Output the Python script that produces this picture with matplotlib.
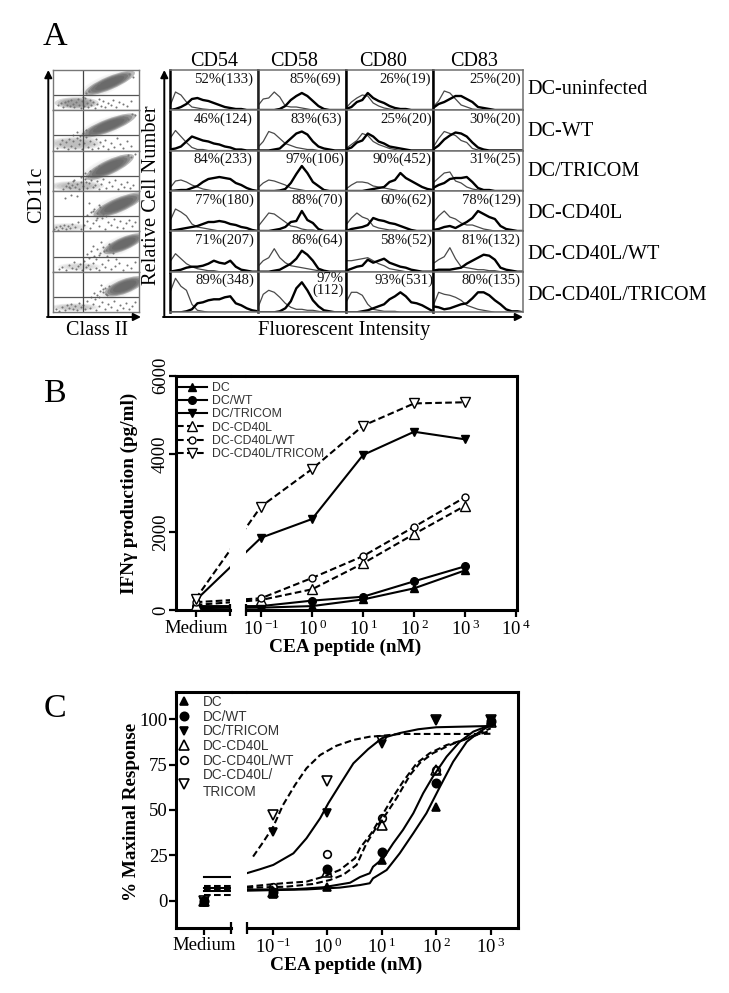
import matplotlib
matplotlib.use('Agg')
import matplotlib.pyplot as plt
import numpy as np
from matplotlib.lines import Line2D
from matplotlib.patches import Ellipse, FancyArrowPatch
from matplotlib.ticker import NullFormatter

plt.rcParams['font.family'] = ['Liberation Serif', 'DejaVu Serif']
plt.rcParams['mathtext.fontset'] = 'custom'
plt.rcParams['mathtext.rm'] = 'Liberation Serif'
plt.rcParams['mathtext.default'] = 'regular'

W, H = 729, 993

# ---------------- Panel A data ----------------
MARKERS_A = ['CD54', 'CD58', 'CD80', 'CD83']
GROUPS_A = ['DC-uninfected', 'DC-WT', 'DC/TRICOM', 'DC-CD40L', 'DC-CD40L/WT', 'DC-CD40L/TRICOM']
PCT_LABELS = [
    ['52%(133)', '85%(69)', '26%(19)', '25%(20)'],
    ['46%(124)', '83%(63)', '25%(20)', '30%(20)'],
    ['84%(233)', '97%(106)', '90%(452)', '31%(25)'],
    ['77%(180)', '88%(70)', '60%(62)', '78%(129)'],
    ['71%(207)', '86%(64)', '58%(52)', '81%(132)'],
    ['89%(348)', '97%\n(112)', '93%(531)', '80%(135)'],
]
# histogram heights at 17 evenly spaced intensity channels, [row][col]
HIST_THIN = [
    [[4,18,15,8,3,2,1,.5,0,0,0,0,0,0,0,0,0],
     [4,11,12,18,13,4,3,3,2,1,0,0,0,0,0,0,0],
     [2,8,12,15,14,7,4,2,1,0,0,0,0,0,0,0,0],
     [3,9,19,17,11,5,3,1,.5,0,0,0,0,0,0,0,0]],
    [[12,20,14,8,3,1,1,0,0,0,0,0,0,0,0,0,0],
     [3,9,19,17,12,7,5,3,2,1,1,0,0,0,0,0,0],
     [2,6,10,17,15,9,6,4,2,1,0,0,0,0,0,0,0],
     [3,12,19,17,15,10,8,2,.5,0,0,0,0,0,0,0,0]],
    [[3,10,11,9,6,4,2,1,0,0,0,0,0,0,0,0,0],
     [3,8,11,10,8,6,3,2,1,0,0,0,0,0,0,0,0],
     [2,6,9,9,8,5,4,3,2,1,0,0,0,0,0,0,0],
     [8,13,18,19,10,8,4,2,1,0,0,0,0,0,0,0,0]],
    [[10,22,19,15,7,4,3,2,1,0,0,0,0,0,0,0,0],
     [4,11,18,17,13,9,5,4,2,1,1,0,0,0,0,0,0],
     [6,13,18,14,12,5,3,2,1,1,0,0,0,0,0,0,0],
     [8,15,20,14,12,8,6,6,4,2,1,0,0,0,0,0,0]],
    [[10,18,13,8,5,3,2,1,1,0,0,0,0,0,0,0,0],
     [5,11,14,23,14,9,6,5,4,3,2,1,0,0,0,0,0],
     [11,11,12,13,14,11,8,6,3,2,1,0,0,0,0,0,0],
     [8,12,15,24,13,5,4,3,2,2,1,1,0,0,0,0,0]],
    [[20,34,26,22,8,2,1,0,0,0,0,0,0,0,0,0,0],
     [4,18,22,20,15,9,5,3,3,2,2,1,0,0,0,0,0],
     [10,20,20,17,8,3,2,1,1,1,0,0,0,0,0,0,0],
     [6,20,18,17,15,12,7,5,3,2,1,0,0,0,0,0,0]],
]
HIST_THICK = [
    [[0,1,3,6,11,12,10,9,7,5,3,2,1,1,0,0,0],
     [0,0,0,0,1,4,10,14,17,14,9,4,1,0,0,0,0],
     [1,3,8,10,17,12,9,7,4,2,1,1,0,0,0,0,0],
     [2,6,8,11,14,14,11,8,3,2,1,0,0,0,0,0,0]],
    [[1,2,4,9,14,12,10,9,7,6,4,3,1,1,0,0,0],
     [0,0,0,1,2,7,12,17,19,16,9,4,2,1,0,0,0],
     [1,3,8,10,17,14,9,7,4,3,2,1,0,0,0,0,0],
     [1,5,11,15,18,17,14,8,3,1,0,0,0,0,0,0,0]],
    [[0,.5,1,1,3,5,9,12,13,14,13,12,8,6,3,1,0],
     [0,0,0,0,.5,2,8,17,25,18,9,5,1,0,0,0,0],
     [0,0,0,0,1,2,3,4,9,11,18,13,10,7,4,2,1],
     [3,6,8,12,13,13,14,9,3,1,1,0,0,0,0,0,0]],
    [[0,1,2,3,4,5,7,9,9,10,9,7,6,4,3,1,0],
     [0,0,0,1,2,4,9,10,20,11,8,2,0,0,0,0,0],
     [0,2,3,4,6,13,11,10,8,7,5,3,1,0,0,0,0],
     [1,2,4,5,3,6,9,13,20,17,14,12,5,2,1,0,0]],
    [[0,1,2,4,5,5,6,8,11,9,8,11,5,2,1,0,0],
     [0,0,0,1,2,5,8,13,21,17,11,3,1,0,0,0,0],
     [1,3,5,6,12,9,11,13,9,7,5,4,2,1,0,0,0],
     [1,2,2,2,3,4,8,11,14,17,16,12,4,2,1,0,0]],
    [[0,0,0,1,3,9,10,12,13,13,15,16,9,7,4,2,1],
     [0,0,0,0,1,4,11,24,30,22,12,6,2,1,0,0,0],
     [0,0,0,1,2,4,6,8,13,16,20,16,10,9,7,4,1],
     [6,5,3,4,6,8,9,14,20,20,17,12,8,3,1,1,0]],
]
# flow-cytometry dense populations: centre x, centre y, length, thickness, angle
CORE = [(57,27,42,10,23),(56,25,45,10,21),(57,24,41,11,25),(66,26,42,11,23),(71,28,34,10,23),(72,26,33,11,21)]
LOWER = [(24,7,34,9,.8),(22,7,42,10,.45),(24,5,42,8,.45),(14,4,34,6,.25),(27,5,34,6,.25),(22,5,38,6,.35)]
# individually read events outside the dense populations
DOTS_X = [
 [5,8,10,12,14,15,17,18,20,21,23,25,26,28,29,31,32,34,35,37,38,40,42,44,46,48,50,52,55,58,60,63,66,70,74,78,30,33,36,39,42,46,72,76,80],
 [4,7,9,11,13,15,16,18,20,22,24,26,27,29,31,33,35,37,39,41,43,45,47,50,52,55,58,61,64,67,70,74,78,20,24,27,30,33,36,38,42,70,75,79,82],
 [10,13,15,17,19,20,22,24,26,28,30,32,34,36,38,40,42,44,46,48,50,53,56,59,62,65,68,71,74,77,80,28,32,35,37,40,43,46,70,75,78,82,16,21,33],
 [1,3,5,7,9,11,13,15,17,19,22,25,28,31,34,37,40,43,46,49,52,55,58,61,64,67,70,73,76,79,82,12,18,24,34,38,41,44,47,50,53,46,44,40,36],
 [6,9,13,16,19,21,23,25,27,29,31,33,35,37,40,43,46,49,52,55,58,62,66,70,74,78,82,34,38,41,44,47,50,53,56,36,40,43,46,48,51,54,57,60,63],
 [3,6,9,12,14,16,18,20,22,24,26,28,30,32,34,37,40,43,46,49,52,55,58,61,64,67,70,73,76,79,82,38,41,44,47,50,53,56,42,46,50,54,58,48,52],
]
DOTS_Y = [
 [5,7,3,8,5,9,4,10,6,3,8,11,5,2,9,4,12,7,3,10,5,8,2,6,11,4,9,3,7,5,10,3,8,6,4,9,13,17,19,21,24,27,35,36,33],
 [3,6,10,4,8,2,11,5,9,3,12,6,10,2,7,13,4,9,2,6,11,3,8,5,10,2,7,4,12,6,3,9,5,15,18,14,17,20,16,19,23,33,31,36,35],
 [2,5,8,3,6,10,4,7,2,9,5,12,3,8,11,4,6,10,2,7,12,3,9,5,11,2,7,4,9,3,6,14,18,15,20,17,22,25,33,36,34,37,4,11,9],
 [2,4,1,5,3,6,2,5,3,7,4,9,2,6,10,3,8,11,5,13,2,9,6,12,4,10,3,8,11,5,9,33,36,35,16,19,22,18,24,17,15,26,13,20,28],
 [3,5,2,7,4,10,3,6,8,2,11,5,7,3,9,4,2,8,5,12,3,6,9,2,7,4,10,18,21,16,23,19,25,22,28,14,26,13,17,30,21,16,26,19,13],
 [3,1,5,2,7,4,8,3,6,2,9,5,7,3,11,4,8,2,6,10,3,8,5,11,2,7,4,9,3,6,10,15,19,17,21,23,18,26,13,15,20,17,22,27,24],
]

# ---------------- Panel B data ----------------
SERIES = ['DC', 'DC/WT', 'DC/TRICOM', 'DC-CD40L', 'DC-CD40L/WT', 'DC-CD40L/TRICOM']
CONC_B = [0.1, 1, 10, 100, 1000]
TICK_LABELS_B = [r'$10^{\,{-}1}$', r'$10^{\,0}$', r'$10^{\,1}$', r'$10^{\,2}$', r'$10^{\,3}$', r'$10^{\,4}$']
B_MEDIUM = [50, 100, 250, 130, 200, 290]
B_VALUES = [
    [60, 100, 270, 555, 1015],
    [100, 240, 340, 735, 1120],
    [1850, 2330, 3970, 4565, 4370],
    [256, 530, 1195, 1945, 2670],
    [300, 820, 1380, 2130, 2890],
    [2650, 3610, 4720, 5290, 5320],
]

# ---------------- Panel C data ----------------
CONC_C = [0.1, 1, 10, 100, 1000]
TICK_LABELS_C = [r'$10^{\,{-}1}$', r'$10^{\,0}$', r'$10^{\,1}$', r'$10^{\,2}$', r'$10^{\,3}$']
C_LEGEND = ['DC', 'DC/WT', 'DC/TRICOM', 'DC-CD40L', 'DC-CD40L/WT', 'DC-CD40L/\nTRICOM']
C_MEDIUM = [-0.5, 0, -0.5, 0, 0, 0]
C_VALUES = [
    [3.7, 7.7, 22.4, 51.5, 99.6],
    [5, 17.5, 27, 64.7, 99],
    [38, 48.2, 86.4, 99.6, 99.6],
    [5, 15.6, 41.7, 72, 98.7],
    [7.4, 25.7, 45.8, 72, 98.7],
    [47.2, 66, 88.2, 99.6, 99.6],
]
C_MEDIUM_LEVEL = [5.5, 6.8, 13.2, 6.5, 8.3, 3.1]
# fitted curves: log10(concentration), % response
FIT_LOG = [
    [-1.48,-.38,.23,.6,.78,.84,1.09,1.33,1.58,1.82,2.07,2.31,2.56,2.8,3],
    [-1.48,-.6,-.07,.42,.6,.78,.84,1.03,1.21,1.39,1.58,1.76,1.94,2.19,2.43,2.68,3],
    [-1.48,-1.235,-.99,-.62,-.38,-.13,.02,.23,.48,.75,1,1.33,1.67,2,2.43,3],
    [-1.48,-.75,-.26,.05,.29,.54,.72,.91,1.09,1.27,1.52,1.7,1.94,2.25,2.5,2.74,3],
    [-1.48,-.81,-.38,-.07,.23,.51,.6,.81,1.03,1.21,1.39,1.64,1.88,2.19,2.5,2.74,3],
    [-1.36,-1.17,-.99,-.81,-.59,-.38,-.13,.17,.48,.78,.97,1.33,1.82,2.68,3],
]
FIT_PCT = [
    [5.5,6.2,7.2,8.6,9.6,12.3,16.9,26.1,37.2,48.2,62.9,76.6,87.6,93.2,96.9],
    [6.1,6.3,7.4,9.9,13,15.1,18.7,23.4,31.6,39,48.2,59.2,68.4,79.4,87.6,93.2,96.9],
    [15.1,17.3,19.7,26.1,34.4,45.4,53.7,63.8,75.7,83.5,89.5,92.4,94.5,95.6,95.9,96.3],
    [7.1,7.7,9.2,11.4,14.2,19.7,31.6,40.8,48.2,56.4,69.3,75.9,81.3,85.8,88.6,91.9,95],
    [7.7,9.6,10.5,13.2,16.9,23.4,28.9,37.2,48.2,57.3,65.6,75.7,81.3,85.8,88.6,91.3,93.7],
    [24.3,32.5,40.8,52.8,63.8,73,80.3,85.4,88.6,90.4,90.8,91.9,91.9,91.9,92],
]

# ---------------- Styles ----------------
fig = plt.figure(figsize=(W / 100, H / 100), dpi=100, facecolor='white')
def axpx(l, t, r, b, **kw):
    return fig.add_axes([l / W, 1 - b / H, (r - l) / W, (b - t) / H], **kw)
def txt(x, y, s, **kw):
    return fig.text(x / W, 1 - y / H, s, **kw)
def arrow(x0, y0, x1, y1):
    fig.add_artist(FancyArrowPatch((x0 / W, 1 - y0 / H), (x1 / W, 1 - y1 / H), transform=fig.transFigure,
                                   arrowstyle='-|>', mutation_scale=11, lw=1.4, color='black',
                                   shrinkA=0, shrinkB=0))
def fline(x0, y0, x1, y1, lw):
    fig.add_artist(Line2D([x0 / W, x1 / W], [1 - y0 / H, 1 - y1 / H], transform=fig.transFigure,
                          color='black', lw=lw, solid_capstyle='butt'))
def soft(ax, x, y, w, h, ang, color, alpha):
    # stacked translucent ellipses give a cloud with a soft edge
    for k in (1.3, 1.12, 0.95, 0.75):
        ax.add_patch(Ellipse((x, y), w * k, h * k, angle=ang, color=color, alpha=alpha, lw=0))

MK = ['^', 'o', 'v', '^', 'o', 'v']
FILLED = [True, True, True, False, False, False]
LS = ['-', '-', '-', '--', '--', '--']
DASH = (0, (3.2, 1.6))

# ---------------- Panel A ----------------
txt(43, 45, 'A', fontsize=24.5, va='baseline')
ROW_EDGES = [70, 110, 150.5, 191, 231, 271.7, 312.3]
SC_L, SC_R = 52.7, 139
for i in range(6):
    ax = axpx(SC_L, ROW_EDGES[i], SC_R, ROW_EDGES[i + 1])
    ax.set_xlim(0, 86.3); ax.set_ylim(0, ROW_EDGES[i + 1] - ROW_EDGES[i])
    cx, cy, ln, th, ang = CORE[i]
    soft(ax, cx - 5, cy - 2, ln, th * 1.35, ang, '#8c8c8c', 0.07)
    lx, ly, lw_, lh, la = LOWER[i]
    soft(ax, lx, ly, lw_, lh, 0, '#707070', la * 0.3)
    soft(ax, cx, cy, ln, th, ang, '#5c5c5c', 0.42)
    ax.scatter(DOTS_X[i], DOTS_Y[i], s=2.2, color='#777777', lw=0)
    ax.axhline(15, color='#555555', lw=0.9)
    ax.axvline(30.7, color='#444444', lw=0.9)
    ax.set_xticks([]); ax.set_yticks([])
    for s in ax.spines.values():
        s.set_color('#777777'); s.set_linewidth(1.0)
arrow(48.3, 317, 48.3, 70)
arrow(47, 317, 141, 317)
txt(97, 330.5, 'Class II', fontsize=14.5, ha='center', va='center')
txt(37, 195, 'CD11c', fontsize=14.5, rotation=90, ha='center', va='center')

COL_EDGES = [170, 257.7, 346, 433, 523]
TEXT_RIGHT = [
    [252.7, 341, 431, 520.7], [252.7, 342, 431.7, 520.7], [252.7, 344.3, 431.7, 520.7],
    [254.3, 343.3, 431.7, 520.7], [254.3, 343.3, 432.3, 520.7], [254.3, 343.3, 433.3, 520.7],
]
for r in range(6):
    for c in range(4):
        ax = axpx(COL_EDGES[c], ROW_EDGES[r], COL_EDGES[c + 1], ROW_EDGES[r + 1])
        ax.set_xlim(0, 16); ax.set_ylim(0, ROW_EDGES[r + 1] - ROW_EDGES[r])
        ch = np.arange(17)
        ax.plot(ch, HIST_THIN[r][c], color='#4a4a4a', lw=0.9, solid_joinstyle='round')
        ax.plot(ch, HIST_THICK[r][c], color='black', lw=1.7, solid_joinstyle='round')
        ax.set_xticks([]); ax.set_yticks([])
        for s in ax.spines.values():
            s.set_color('#6f6f6f'); s.set_linewidth(1.1)
        ax.spines['left'].set_color('black' if c != 1 else '#222222')
        ax.spines['left'].set_linewidth(1.8)
        label = PCT_LABELS[r][c]
        if '\n' in label:
            txt(TEXT_RIGHT[r][c], ROW_EDGES[r] + 13, label, fontsize=10.6, ha='right', va='center', linespacing=0.85, color='#111111')
        else:
            txt(TEXT_RIGHT[r][c], ROW_EDGES[r] + 9, label, fontsize=10.6, ha='right', va='center', color='#111111')
for x, m in zip([214, 294, 383, 474], MARKERS_A):
    txt(x, 61, m, fontsize=14.5, ha='center', va='center')
for y, g in zip([89, 131, 172, 213.5, 254.5, 295.5], GROUPS_A):
    txt(527.7, y, g, fontsize=14.6, ha='left', va='center')
arrow(164.3, 317, 164.3, 70)
arrow(163, 317, 523, 317)
txt(151, 195, 'Relative Cell Number', fontsize=14.8, rotation=90, ha='center', va='center')
txt(344, 330.5, 'Fluorescent Intensity', fontsize=14.8, ha='center', va='center')

# ---------------- Broken axes helper ----------------
def broken(l, gap0, gap1, r, t, b, xlim_l, xlim_r, ylim, med_pos):
    a0 = axpx(l, t, gap0, b); a1 = axpx(gap1, t, r, b)
    for a, lim in ((a0, xlim_l), (a1, xlim_r)):
        a.set_xscale('log'); a.set_xlim(10 ** lim[0], 10 ** lim[1]); a.set_ylim(*ylim)
        a.patch.set_alpha(0)
        for s in a.spines.values():
            s.set_linewidth(2.2)
        a.tick_params(which='major', width=1.6, length=5, pad=2, labelsize=13.5)
        a.tick_params(which='minor', width=1.6, length=9, direction='inout')
        a.xaxis.set_minor_formatter(NullFormatter())
    a0.spines['right'].set_visible(False)
    a1.spines['left'].set_visible(False)
    a1.yaxis.set_visible(False)
    a0.set_xticks([10 ** med_pos]); a0.set_xticklabels(['Medium'])
    a0.set_xticks([10 ** xlim_l[1]], minor=True)
    fline(gap0, t, gap1, t, 2.2)
    return a0, a1

# ---------------- Panel B ----------------
txt(44, 402, 'B', fontsize=24.5, va='baseline')
MED_B = 10 ** -2.28
a0, a1 = broken(176, 230, 245.7, 516.7, 375.7, 610, (-2.667, -1.608), (-1.3, 4.01), (0, 6000), -2.28)
handles = []
for i, name in enumerate(SERIES):
    xs = [MED_B] + CONC_B
    ys = [B_MEDIUM[i]] + B_VALUES[i]
    for a in (a0, a1):
        ln, = a.plot(xs, ys, color='black', lw=1.5, ls=DASH if LS[i] == '--' else '-', marker=MK[i],
                     ms=5.5 if FILLED[i] else (5 if MK[i] == 'o' else 6.5),
                     mfc='black' if FILLED[i] else 'white', mec='black', mew=1.0,
                     zorder=3 + i * 0.1, label=name)
    handles.append(ln)
a1.set_xticks([0.1, 1, 10, 100, 1000, 10000]); a1.set_xticklabels(TICK_LABELS_B)
a1.set_xticks([10 ** -1.3], minor=True)
a0.set_yticks([0, 2000, 4000, 6000])
a0.set_yticklabels(['0', '2000', '4000', '6000'], rotation=90, va='center')
a0.tick_params(axis='y', pad=0)
fig.legend(handles=handles, loc='upper left', bbox_to_anchor=(177 / W, 1 - 382 / H), frameon=False,
           borderaxespad=0, borderpad=0, labelspacing=0.1, handlelength=2.45, numpoints=1,
           handletextpad=0.38, prop={'family': 'Liberation Sans', 'size': 8.9}, labelcolor='#333333')
txt(129, 493, 'IFNγ production (pg/ml)', fontsize=13.8, fontweight='bold', rotation=90, ha='center', va='center')
txt(345, 647, 'CEA peptide (nM)', fontsize=13.9, fontweight='bold', ha='center', va='center')

# ---------------- Panel C ----------------
txt(44, 717, 'C', fontsize=24.5, va='baseline')
MED_C = 10 ** -2.26
yl = (-14.9, 115.2)
c0, c1 = broken(176, 230.7, 246.7, 518, 691.7, 927.7, (-2.774, -1.77), (-1.477, 3.5), yl, -2.26)
hs = []
for i, name in enumerate(C_LEGEND):
    style = dict(color='black', lw=1.5, ls=DASH if LS[i] == '--' else '-', zorder=2)
    mk = dict(ls='none', marker=MK[i], ms=6 if FILLED[i] else (5.5 if MK[i] == 'o' else 7),
              mfc='black' if FILLED[i] else 'none', mec='black', mew=1.2, zorder=4)
    c1.plot(10.0 ** np.array(FIT_LOG[i]), FIT_PCT[i], **style)
    c0.plot([MED_C, 10 ** -1.6], [C_MEDIUM_LEVEL[i]] * 2, **style)
    c0.plot([MED_C], [C_MEDIUM[i]], **mk)
    h, = c1.plot(CONC_C, C_VALUES[i], label=name, **mk)
    hs.append(h)
c1.set_xticks(CONC_C); c1.set_xticklabels(TICK_LABELS_C)
c1.set_xticks([10 ** -1.477], minor=True)
c0.set_yticks([0, 25, 50, 75, 100])
c0.tick_params(axis='y', pad=1)
fig.legend(handles=hs, loc='upper left', bbox_to_anchor=(178 / W, 1 - 695 / H), frameon=False,
           borderaxespad=0, borderpad=0, labelspacing=0.05, handlelength=0.92, numpoints=1,
           handletextpad=0.91, prop={'family': 'Liberation Sans', 'size': 9.8}, labelcolor='#333333')
txt(131, 811.7, '% Maximal Response', fontsize=13.8, fontweight='bold', rotation=90, ha='center', va='center')
txt(346, 965, 'CEA peptide (nM)', fontsize=13.9, fontweight='bold', ha='center', va='center')

fig.savefig('out.png', dpi=100)
